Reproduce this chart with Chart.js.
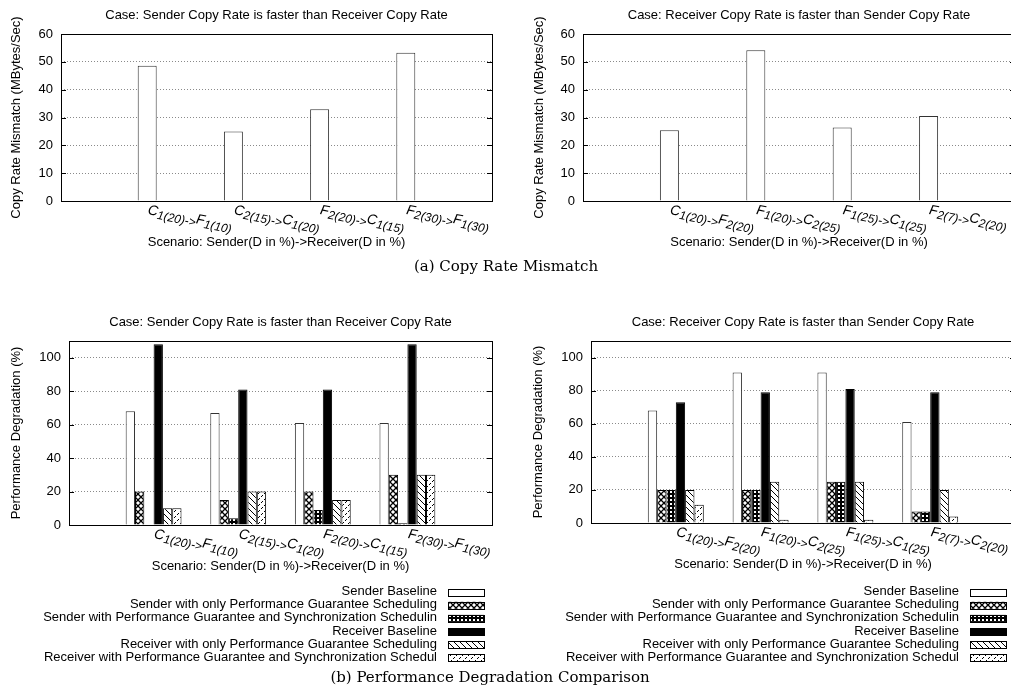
<!DOCTYPE html>
<html>
<head>
<meta charset="utf-8">
<script src="https://cdn.jsdelivr.net/npm/chart.js@4.4.1/dist/chart.umd.min.js"></script>
<style>
  html, body { margin: 0; padding: 0; background: #fff; }
  body { width: 1011px; height: 698px; overflow: hidden; position: relative; }
  canvas { position: absolute; }
  .caption {
    position: absolute; width: 400px; text-align: center;
    font-family: "DejaVu Serif", "Liberation Serif", serif; font-size: 15px; color: #000;
  }
</style>
</head>
<body>
<canvas id="mismatchSender" width="505" height="260" style="left:0;top:0"></canvas>
<canvas id="mismatchReceiver" width="520" height="260" style="left:505px;top:0"></canvas>
<div class="caption" style="left:306px;top:257px">(a) Copy Rate Mismatch</div>
<canvas id="degradSender" width="505" height="380" style="left:0;top:290px"></canvas>
<canvas id="degradReceiver" width="520" height="380" style="left:505px;top:290px"></canvas>
<div class="caption" style="left:290px;top:668px">(b) Performance Degradation Comparison</div>

<script>
// ---------- data ----------
const senderFasterLabels = ['C1(20)->F1(10)', 'C2(15)->C1(20)', 'F2(20)->C1(15)', 'F2(30)->F1(30)'];
const receiverFasterLabels = ['C1(20)->F2(20)', 'F1(20)->C2(25)', 'F1(25)->C1(25)', 'F2(7)->C2(20)'];

// copy rate mismatch (MBytes/Sec)
const mismatchSenderFaster = [48.6, 25, 33, 53.3];
const mismatchReceiverFaster = [25.4, 54.2, 26.4, 30.5];

const seriesNames = [
  'Sender Baseline',
  'Sender with only Performance Guarantee Scheduling',
  'Sender with Performance Guarantee and Synchronization Schedulin',
  'Receiver Baseline',
  'Receiver with only Performance Guarantee Scheduling',
  'Receiver with Performance Guarantee and Synchronization Schedul'
];

// performance degradation (%), sender faster case
const sfSenderBaseline   = [68, 67, 61, 61];
const sfSenderPG         = [20, 15, 20, 30];
const sfSenderPGS        = [0, 4, 9, 1];
const sfReceiverBaseline = [108, 81, 81, 108];
const sfReceiverPG       = [10, 20, 15, 30];
const sfReceiverPGS      = [10, 20, 15, 30];

// performance degradation (%), receiver faster case
const rfSenderBaseline   = [68, 91, 91, 61];
const rfSenderPG         = [20, 20, 25, 7];
const rfSenderPGS        = [20, 20, 25, 7];
const rfReceiverBaseline = [73, 79, 81, 79];
const rfReceiverPG       = [20, 25, 25, 20];
const rfReceiverPGS      = [11, 2, 2, 4];

const mismatchTicks = [0, 10, 20, 30, 40, 50, 60];
const degradationTicks = [0, 20, 40, 60, 80, 100];

const caseSenderTitle = 'Case: Sender Copy Rate is faster than Receiver Copy Rate';
const caseReceiverTitle = 'Case: Receiver Copy Rate is faster than Sender Copy Rate';
const mismatchAxisTitle = 'Copy Rate Mismatch (MBytes/Sec)';
const degradationAxisTitle = 'Performance Degradation (%)';
const scenarioAxisTitle = 'Scenario: Sender(D in %)->Receiver(D in %)';

// ---------- fill patterns ----------
const FONT = '"Liberation Sans", Arial, sans-serif';

function makePattern(size, draw) {
  const c = document.createElement('canvas');
  c.width = c.height = size;
  const g = c.getContext('2d');
  g.fillStyle = '#fff';
  g.fillRect(0, 0, size, size);
  draw(g, size);
  return g.createPattern(c, 'repeat');
}

const crossFill = makePattern(6, (g, s) => {
  g.strokeStyle = '#000'; g.lineWidth = 1.3;
  g.beginPath();
  g.moveTo(0, 0); g.lineTo(s, s);
  g.moveTo(s, 0); g.lineTo(0, s);
  g.stroke();
});
const dotFill = makePattern(4, (g) => {
  g.fillStyle = '#000'; g.fillRect(0, 0, 4, 4);
  g.fillStyle = '#fff'; g.fillRect(1, 1, 2, 2);
});
const diagFill = makePattern(6, (g, s) => {
  g.strokeStyle = '#000'; g.lineWidth = 1;
  g.beginPath();
  g.moveTo(-1, -1); g.lineTo(s + 1, s + 1);
  g.moveTo(-1, s - 1); g.lineTo(1, s + 1);
  g.moveTo(s - 1, -1); g.lineTo(s + 1, 1);
  g.stroke();
});
const sparseFill = makePattern(6, (g) => {
  g.fillStyle = '#000';
  g.fillRect(4, 1, 1, 1); g.fillRect(3, 2, 1, 1);
  g.fillRect(1, 4, 1, 1); g.fillRect(0, 5, 1, 1);
});
const seriesFills = ['#fff', crossFill, dotFill, '#000', diagFill, sparseFill];

// ---------- decoration plugin: frame, titles, subscript labels, legend ----------
function drawSubLabel(ctx, text, x, y) {
  ctx.save();
  ctx.translate(x, y);
  ctx.rotate(11 * Math.PI / 180);
  ctx.fillStyle = '#000';
  ctx.textAlign = 'left';
  ctx.textBaseline = 'alphabetic';
  let cx = 0;
  const parts = text.match(/[A-Z][^A-Z]*/g);
  parts.forEach(p => {
    ctx.font = 'italic 14px ' + FONT;
    ctx.fillText(p[0], cx, 0);
    cx += ctx.measureText(p[0]).width;
    ctx.font = 'italic 12px ' + FONT;
    const sub = p.slice(1);
    ctx.fillText(sub, cx, 3);
    cx += ctx.measureText(sub).width;
  });
  ctx.restore();
}

const decorPlugin = {
  id: 'decor',
  afterDatasetsDraw(chart, args, opts) {
    const ctx = chart.ctx;
    const a = chart.chartArea;
    const y = chart.scales.y;
    const x = chart.scales.x;
    ctx.save();
    // frame and inward tick marks
    ctx.strokeStyle = '#000';
    ctx.lineWidth = 1;
    ctx.strokeRect(Math.round(a.left) + 0.5, Math.round(a.top) + 0.5,
      Math.round(a.right - a.left), Math.round(a.bottom - a.top));
    ctx.beginPath();
    y.ticks.forEach(t => {
      const py = Math.round(y.getPixelForValue(t.value)) + 0.5;
      ctx.moveTo(a.left, py); ctx.lineTo(a.left + 5, py);
      ctx.moveTo(a.right, py); ctx.lineTo(a.right - 5, py);
    });
    ctx.stroke();

    const cx = (a.left + a.right) / 2;
    const cy = (a.top + a.bottom) / 2;
    ctx.fillStyle = '#000';
    ctx.font = '13px ' + FONT;
    ctx.textAlign = 'center';
    ctx.textBaseline = 'middle';
    ctx.fillText(opts.title, cx, a.top - 19);
    ctx.fillText(scenarioAxisTitle, cx, a.bottom + 41);
    ctx.save();
    ctx.translate(a.left + opts.yTitleOffset, cy);
    ctx.rotate(-Math.PI / 2);
    ctx.fillText(opts.yTitle, 0, 0);
    ctx.restore();

    opts.labels.forEach((lab, i) => {
      drawSubLabel(ctx, lab, x.getPixelForValue(i), a.bottom + 13);
    });

    if (opts.legend) {
      const L = opts.legend;
      chart.data.datasets.forEach((ds, i) => {
        const ly = L.top + i * 13.1;
        ctx.font = '13px ' + FONT;
        ctx.textAlign = 'right';
        ctx.fillStyle = '#000';
        ctx.fillText(ds.label, L.textRight, ly);
        ctx.fillStyle = ds.backgroundColor;
        ctx.fillRect(L.swatchLeft, ly - 3, 36, 7);
        ctx.strokeStyle = '#000';
        ctx.strokeRect(L.swatchLeft + 0.5, Math.round(ly - 3) + 0.5, 36, 7);
      });
    }
    ctx.restore();
  }
};

// ---------- chart builder ----------
function buildChart(id, box, plot, datasets, cfg) {
  const canvas = document.getElementById(id);
  return new Chart(canvas, {
    type: 'bar',
    data: { datasets },
    options: {
      responsive: false,
      animation: false,
      devicePixelRatio: 1,
      layout: {
        padding: {
          left: 0,
          top: plot.top - box.top,
          right: box.left + box.w - plot.right,
          bottom: box.top + box.h - plot.bottom
        }
      },
      scales: {
        x: {
          type: 'linear', display: false, offset: false,
          min: -1, max: 4,
          ticks: { stepSize: 1 }
        },
        y: {
          min: 0, max: cfg.yMax,
          afterFit: s => { s.width = plot.left - box.left; },
          afterBuildTicks: s => { s.ticks = cfg.ticks.map(v => ({ value: v })); },
          grid: { color: '#8a8a8a', lineWidth: 1, drawTicks: false },
          border: { display: false, dash: [1, 2] },
          ticks: { padding: 8, color: '#000', font: { family: FONT, size: 13 } }
        }
      },
      plugins: {
        legend: { display: false },
        tooltip: { enabled: false },
        decor: cfg.decor
      }
    },
    plugins: [decorPlugin]
  });
}

function toPoints(values) {
  return values.map((v, i) => ({ x: i, y: v }));
}

function mismatchDataset(values) {
  return [{
    label: 'Copy Rate Mismatch',
    data: toPoints(values),
    backgroundColor: '#fff',
    borderColor: '#333',
    borderWidth: 1,
    categoryPercentage: 0.22,
    barPercentage: 1
  }];
}

function degradationDatasets(seriesList) {
  return seriesList.map((vals, i) => ({
    label: seriesNames[i],
    data: toPoints(vals),
    backgroundColor: seriesFills[i],
    borderColor: i === 0 ? '#333' : '#000',
    borderWidth: 1,
    categoryPercentage: 0.66,
    barPercentage: 1
  }));
}

buildChart('mismatchSender',
  { left: 0, top: 0, w: 505, h: 260 },
  { left: 61, top: 34, right: 492, bottom: 201 },
  mismatchDataset(mismatchSenderFaster),
  { yMax: 60, ticks: mismatchTicks,
    decor: { title: caseSenderTitle, yTitle: mismatchAxisTitle, yTitleOffset: -45, labels: senderFasterLabels } });

buildChart('mismatchReceiver',
  { left: 505, top: 0, w: 520, h: 260 },
  { left: 583, top: 34, right: 1015, bottom: 201 },
  mismatchDataset(mismatchReceiverFaster),
  { yMax: 60, ticks: mismatchTicks,
    decor: { title: caseReceiverTitle, yTitle: mismatchAxisTitle, yTitleOffset: -44, labels: receiverFasterLabels } });

buildChart('degradSender',
  { left: 0, top: 290, w: 505, h: 380 },
  { left: 69, top: 341, right: 492, bottom: 525 },
  degradationDatasets([sfSenderBaseline, sfSenderPG, sfSenderPGS, sfReceiverBaseline, sfReceiverPG, sfReceiverPGS]),
  { yMax: 110, ticks: degradationTicks,
    decor: { title: caseSenderTitle, yTitle: degradationAxisTitle, yTitleOffset: -53, labels: senderFasterLabels,
      legend: { top: 301.7, textRight: 437, swatchLeft: 448 } } });

buildChart('degradReceiver',
  { left: 505, top: 290, w: 520, h: 380 },
  { left: 591, top: 341, right: 1015, bottom: 523 },
  degradationDatasets([rfSenderBaseline, rfSenderPG, rfSenderPGS, rfReceiverBaseline, rfReceiverPG, rfReceiverPGS]),
  { yMax: 110, ticks: degradationTicks,
    decor: { title: caseReceiverTitle, yTitle: degradationAxisTitle, yTitleOffset: -53, labels: receiverFasterLabels,
      legend: { top: 301.7, textRight: 454, swatchLeft: 465 } } });
</script>
</body>
</html>
